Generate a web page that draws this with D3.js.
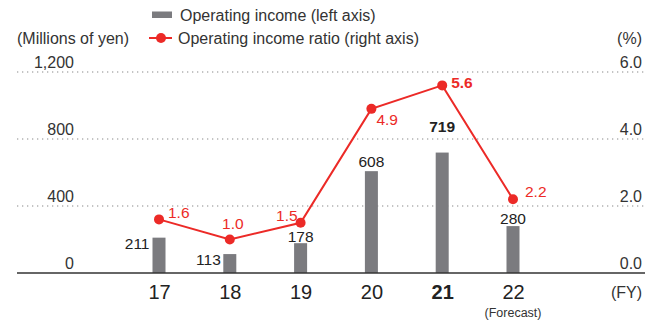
<!DOCTYPE html>
<html>
<head>
<meta charset="utf-8">
<script src="https://cdn.jsdelivr.net/npm/d3@7/dist/d3.min.js"></script>
<style>
  html, body { margin: 0; padding: 0; background: #fff; }
  svg { display: block; font-family: "Liberation Sans", Arial, sans-serif; }
</style>
</head>
<body>
<svg id="chart" width="645" height="324"></svg>
<script>
// Fiscal years and values
const years = ["17", "18", "19", "20", "21", "22"];
const operatingIncome = [211, 113, 178, 608, 719, 280];      // millions of yen
const incomeRatio = [1.6, 1.0, 1.5, 4.9, 5.6, 2.2];           // %
const leftTicks = [0, 400, 800, 1200];
const rightTicks = [0, 2, 4, 6];
const highlightYear = "21";
const forecastYear = "22";

// Label placement around each mark
const barLabelPlace = [
  { anchor: "end", dx: -9.5, dy: 11 },
  { anchor: "end", dx: -9, dy: 10.5 },
  { anchor: "middle", dx: 0, dy: -1 },
  { anchor: "middle", dx: 0, dy: -4.5 },
  { anchor: "middle", dx: 0, dy: -21 },
  { anchor: "middle", dx: 0, dy: -2.5 }
];
const ratioLabelPlace = [
  { anchor: "start", dx: 9, dy: -1 },
  { anchor: "middle", dx: 3, dy: -11 },
  { anchor: "end", dx: -3, dy: -2 },
  { anchor: "start", dx: 5, dy: 16 },
  { anchor: "start", dx: 9, dy: 3 },
  { anchor: "start", dx: 12, dy: -2 }
];

const BAR = "#7b7b7f";
const RED = "#ec2a27";
const TXT = "#333";

const svg = d3.select("#chart");

const x = d3.scalePoint().domain(years).range([159, 513]);
const yLeft = d3.scaleLinear().domain([0, 1200]).range([273, 72]);
const yRight = d3.scaleLinear().domain([0, 6]).range([273, 72]);

// Dotted gridlines
svg.append("g")
  .selectAll("line")
  .data(leftTicks.filter(d => d > 0))
  .join("line")
  .attr("x1", 17).attr("x2", 645)
  .attr("y1", d => yLeft(d)).attr("y2", d => yLeft(d))
  .attr("stroke", "#8a8a8a")
  .attr("stroke-width", 1.2)
  .attr("stroke-dasharray", "1.3 3.7");

// Left axis (labels only)
const leftAxis = svg.append("g")
  .attr("transform", "translate(74,0)")
  .call(d3.axisLeft(yLeft).tickValues(leftTicks).tickSize(0).tickPadding(0)
    .tickFormat(d3.format(",")));
leftAxis.select(".domain").remove();
leftAxis.selectAll("text")
  .attr("dy", -5)
  .attr("font-size", 16)
  .attr("font-family", "Liberation Sans, Arial, sans-serif")
  .attr("fill", TXT);

// Right axis (labels only)
const rightAxis = svg.append("g")
  .attr("transform", "translate(642,0)")
  .call(d3.axisLeft(yRight).tickValues(rightTicks).tickSize(0).tickPadding(0)
    .tickFormat(d3.format(".1f")));
rightAxis.select(".domain").remove();
rightAxis.selectAll("text")
  .attr("dy", -5)
  .attr("font-size", 16)
  .attr("font-family", "Liberation Sans, Arial, sans-serif")
  .attr("fill", TXT);

// Axis unit captions
svg.append("text").attr("x", 17).attr("y", 43.5)
  .attr("font-size", 16).attr("fill", TXT).text("(Millions of yen)");
svg.append("text").attr("x", 642).attr("y", 43.5).attr("text-anchor", "end")
  .attr("font-size", 16).attr("fill", TXT).text("(%)");

// Bars
const barW = 13;
svg.append("g")
  .selectAll("rect")
  .data(years)
  .join("rect")
  .attr("x", d => x(d) - barW / 2)
  .attr("width", barW)
  .attr("y", (d, i) => yLeft(operatingIncome[i]))
  .attr("height", (d, i) => yLeft(0) - yLeft(operatingIncome[i]))
  .attr("fill", BAR);

// Baseline
svg.append("line")
  .attr("x1", 17).attr("x2", 645)
  .attr("y1", yLeft(0)).attr("y2", yLeft(0))
  .attr("stroke", "#333").attr("stroke-width", 1.3);

// Bar value labels
svg.append("g")
  .selectAll("text")
  .data(years)
  .join("text")
  .attr("x", (d, i) => x(d) + barLabelPlace[i].dx)
  .attr("y", (d, i) => yLeft(operatingIncome[i]) + barLabelPlace[i].dy)
  .attr("text-anchor", (d, i) => barLabelPlace[i].anchor)
  .attr("font-size", 15.5)
  .attr("font-weight", d => d === highlightYear ? "bold" : "normal")
  .attr("fill", "#222")
  .text((d, i) => d3.format(",")(operatingIncome[i]));

// Ratio line
const line = d3.line()
  .x((d, i) => x(years[i]))
  .y(d => yRight(d));
svg.append("path")
  .datum(incomeRatio)
  .attr("d", line)
  .attr("fill", "none")
  .attr("stroke", RED)
  .attr("stroke-width", 2);

svg.append("g")
  .selectAll("circle")
  .data(incomeRatio)
  .join("circle")
  .attr("cx", (d, i) => x(years[i]))
  .attr("cy", d => yRight(d))
  .attr("r", 5)
  .attr("fill", RED);

// Ratio value labels
svg.append("g")
  .selectAll("text")
  .data(incomeRatio)
  .join("text")
  .attr("x", (d, i) => x(years[i]) + ratioLabelPlace[i].dx)
  .attr("y", (d, i) => yRight(d) + ratioLabelPlace[i].dy)
  .attr("text-anchor", (d, i) => ratioLabelPlace[i].anchor)
  .attr("font-size", 15.5)
  .attr("font-weight", (d, i) => years[i] === highlightYear ? "bold" : "normal")
  .attr("fill", RED)
  .text(d => d3.format(".1f")(d));

// Category axis
const xAxis = svg.append("g")
  .attr("transform", "translate(0,299)")
  .call(d3.axisBottom(x).tickSize(0).tickPadding(0));
xAxis.select(".domain").remove();
xAxis.selectAll("text")
  .attr("dy", 0)
  .attr("font-size", 20)
  .attr("font-family", "Liberation Sans, Arial, sans-serif")
  .attr("font-weight", d => d === highlightYear ? "bold" : "normal")
  .attr("fill", "#222");

svg.append("text")
  .attr("x", x(forecastYear)).attr("y", 316.5)
  .attr("text-anchor", "middle")
  .attr("font-size", 12.5).attr("fill", TXT)
  .text("(Forecast)");

svg.append("text")
  .attr("x", 642).attr("y", 298)
  .attr("text-anchor", "end")
  .attr("font-size", 16).attr("fill", TXT)
  .text("(FY)");

// Legend
const legend = svg.append("g");
legend.append("rect")
  .attr("x", 152).attr("y", 11.5).attr("width", 20).attr("height", 6.5)
  .attr("fill", BAR);
legend.append("text")
  .attr("x", 180).attr("y", 20.5)
  .attr("font-size", 16).attr("fill", TXT)
  .text("Operating income (left axis)");
legend.append("line")
  .attr("x1", 149).attr("x2", 172).attr("y1", 38).attr("y2", 38)
  .attr("stroke", RED).attr("stroke-width", 2);
legend.append("circle")
  .attr("cx", 161).attr("cy", 38).attr("r", 5).attr("fill", RED);
legend.append("text")
  .attr("x", 178).attr("y", 43.5)
  .attr("font-size", 16).attr("fill", TXT)
  .text("Operating income ratio (right axis)");
</script>
</body>
</html>
